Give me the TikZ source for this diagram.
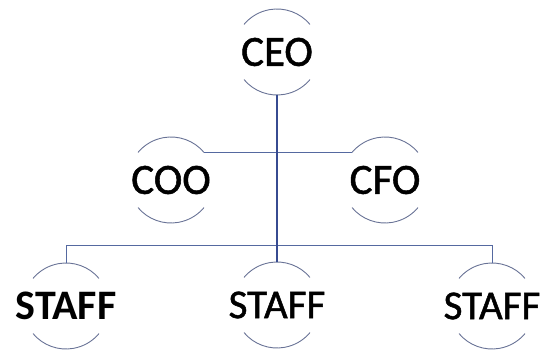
\documentclass[tikz,border=0pt]{standalone}
\usepackage{fontspec}
\setmainfont{Carlito}
\definecolor{arccol}{RGB}{105,115,150}
\definecolor{linkcol}{RGB}{85,105,160}
\definecolor{trunkcol}{RGB}{55,75,145}
\begin{document}
\begin{tikzpicture}[x=1pt,y=1pt,
  orgnode/.style={circle,minimum size=86pt,inner sep=0pt,outer sep=0pt},
  orglabel/.style={font=\fontsize{43}{43}\selectfont\addfontfeature{FakeBold=1.2}},
  arcline/.style={draw=arccol,line width=0.9pt},
  link/.style={draw=linkcol,line width=1pt},
  trunk/.style={draw=trunkcol,line width=1.2pt}]
\useasboundingbox (0,0) rectangle (546,354);
\node[orgnode,label={[orglabel]center:CEO}] (ceo) at (277,302) {};
\node[orgnode,label={[orglabel]center:COO}] (coo) at (171,174) {};
\node[orgnode,label={[orglabel]center:CFO}] (cfo) at (385,174) {};
\node[orgnode,label={[orglabel,font=\fontsize{42}{42}\selectfont\bfseries]center:STAFF}] (sl) at (66,48) {};
\node[orgnode,label={[orglabel,font=\fontsize{41}{41}\selectfont\addfontfeature{FakeBold=1.2}]center:STAFF}] (sm) at (277,49) {};
\node[orgnode,label={[orglabel,font=\fontsize{41}{41}\selectfont\addfontfeature{FakeBold=1.2}]center:STAFF}] (sr) at (492,48) {};
\foreach \n in {ceo,coo,cfo,sl,sm,sr}{
  \draw[arcline] (\n.40) arc (40:140:43pt);
  \draw[arcline] (\n.220) arc (220:320:43pt);
}
\coordinate (busy) at (0,109);
\draw[link] (coo.39) -- (cfo.141);
\draw[link] (sl.north |- busy) -- (sr.north |- busy);
\draw[link] (sl.north) -- (sl.north |- busy);
\draw[link] (sr.north) -- (sr.north |- busy);
\draw[trunk] (ceo.south) -- (sm.north);
\end{tikzpicture}
\end{document}
